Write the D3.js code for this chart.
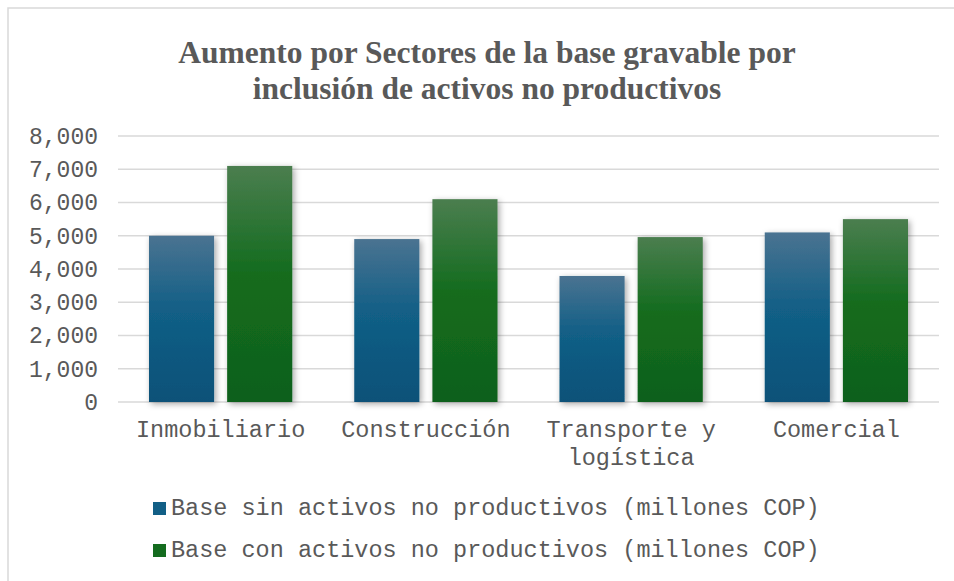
<!DOCTYPE html>
<meta charset="utf-8">
<script src="https://d3js.org/d3.v7.min.js"></script>
<style>
  body { margin: 0; background: #fff; }
  text { fill: #595959; }
  .mono { font-family: "Liberation Mono", "Courier New", monospace; }
</style>
<body>
<div id="chart"></div>
<script>
  // data
  var categories = ["Inmobiliario", "Construcción", "Transporte y logística", "Comercial"]
  var seriesNames = ["Base sin activos no productivos (millones COP)", "Base con activos no productivos (millones COP)"]
  var sinActivos = [5000, 4900, 3790, 5100]
  var conActivos = [7100, 6100, 4960, 5500]
  var yTicks = [0, 1000, 2000, 3000, 4000, 5000, 6000, 7000, 8000]

  var width = 954, height = 581
  var plot = {left: 118, right: 939, top: 136, bottom: 402}

  var svg = d3.select("#chart").append("svg")
    .attr("width", width)
    .attr("height", height)

  var defs = svg.append("defs")

  // office-like gradients, light on top
  function gradient(id, stops) {
    var g = defs.append("linearGradient").attr("id", id)
      .attr("x1", 0).attr("y1", 0).attr("x2", 0).attr("y2", 1)
    stops.forEach(function(s) {
      g.append("stop").attr("offset", s[0]).attr("stop-color", s[1])
    })
  }
  gradient("gBlue", [[0, "#4a7391"], [0.45, "#125f86"], [1, "#0a5178"]])
  gradient("gGreen", [[0, "#4b7e4f"], [0.45, "#146c1f"], [1, "#0f601a"]])

  var shadow = defs.append("filter").attr("id", "shadow")
    .attr("x", "-30%").attr("y", "-10%").attr("width", "160%").attr("height", "125%")
  shadow.append("feDropShadow")
    .attr("dx", 2).attr("dy", 2).attr("stdDeviation", 3)
    .attr("flood-color", "#000").attr("flood-opacity", 0.35)

  // chart frame
  svg.append("rect")
    .attr("x", 8).attr("y", 8)
    .attr("width", 1000).attr("height", 700)
    .attr("fill", "none").attr("stroke", "#d9d9d9").attr("stroke-width", 1.5)

  // title
  var title = svg.append("text")
    .attr("text-anchor", "middle")
    .style("font-family", "'Liberation Serif', 'Times New Roman', serif")
    .style("font-weight", "bold")
    .style("font-size", "31.5px")
  title.append("tspan").attr("x", 487).attr("y", 63).text("Aumento por Sectores de la base gravable por")
  title.append("tspan").attr("x", 487).attr("y", 99).text("inclusión de activos no productivos")

  var x0 = d3.scaleBand()
    .domain(categories)
    .range([plot.left, plot.right])
    .paddingInner(0.302)
    .paddingOuter(0.151)

  var x1 = d3.scaleBand()
    .domain([0, 1])
    .range([0, x0.bandwidth()])
    .paddingInner(0.167)

  var y = d3.scaleLinear()
    .domain([0, 8000])
    .range([plot.bottom, plot.top])

  // gridlines
  svg.append("g").selectAll("line")
    .data(yTicks)
    .enter().append("line")
    .attr("x1", plot.left).attr("x2", plot.right)
    .attr("y1", function(d) { return y(d) }).attr("y2", function(d) { return y(d) })
    .attr("stroke", "#d9d9d9").attr("stroke-width", 1.5)

  // y axis labels
  var yAxis = svg.append("g")
    .attr("transform", "translate(" + (plot.left - 20) + ",0)")
    .call(d3.axisLeft(y).tickValues(yTicks).tickFormat(d3.format(",")).tickSize(0).tickPadding(0))
  yAxis.select(".domain").remove()
  yAxis.selectAll("text")
    .attr("class", "mono")
    .style("font-size", "23px")
    .attr("fill", "#595959")

  // bars
  var rows = categories.map(function(c, i) { return {cat: c, values: [sinActivos[i], conActivos[i]]} })
  var fills = ["url(#gBlue)", "url(#gGreen)"]

  var groups = svg.append("g").selectAll("g")
    .data(rows)
    .enter().append("g")
    .attr("transform", function(d) { return "translate(" + x0(d.cat) + ",0)" })

  groups.selectAll("rect")
    .data(function(d) { return d.values.map(function(v, k) { return {k: k, v: v} }) })
    .enter().append("rect")
    .attr("x", function(d) { return x1(d.k) })
    .attr("width", x1.bandwidth())
    .attr("y", function(d) { return y(d.v) })
    .attr("height", function(d) { return y(0) - y(d.v) })
    .attr("fill", function(d) { return fills[d.k] })
    .attr("filter", "url(#shadow)")

  // category labels, wrapped to the band step
  var step = x0.step()
  svg.append("g").selectAll("text")
    .data(categories)
    .enter().append("text")
    .attr("class", "mono")
    .attr("text-anchor", "middle")
    .style("font-size", "23.5px")
    .attr("x", function(d) { return x0(d) + x0.bandwidth() / 2 })
    .attr("y", 437)
    .each(function(d) {
      var t = d3.select(this), words = d.split(" "), line = [], lines = []
      var maxChars = Math.floor(step / 14.1)
      words.forEach(function(w) {
        var test = line.concat([w]).join(" ")
        if (test.length > maxChars && line.length) { lines.push(line.join(" ")); line = [w] }
        else line.push(w)
      })
      lines.push(line.join(" "))
      lines.forEach(function(l, i) {
        t.append("tspan").attr("x", t.attr("x")).attr("dy", i ? 28 : 0).text(l)
      })
    })

  // legend
  var legend = svg.append("g").selectAll("g")
    .data(seriesNames)
    .enter().append("g")
    .attr("transform", function(d, i) { return "translate(153," + (502 + i * 42) + ")" })
  legend.append("rect")
    .attr("width", 13).attr("height", 13)
    .attr("fill", function(d, i) { return i ? "#146c1f" : "#125f86" })
  legend.append("text")
    .attr("class", "mono")
    .style("font-size", "23.5px")
    .attr("x", 18).attr("y", 13)
    .text(function(d) { return d })
</script>
</body>
